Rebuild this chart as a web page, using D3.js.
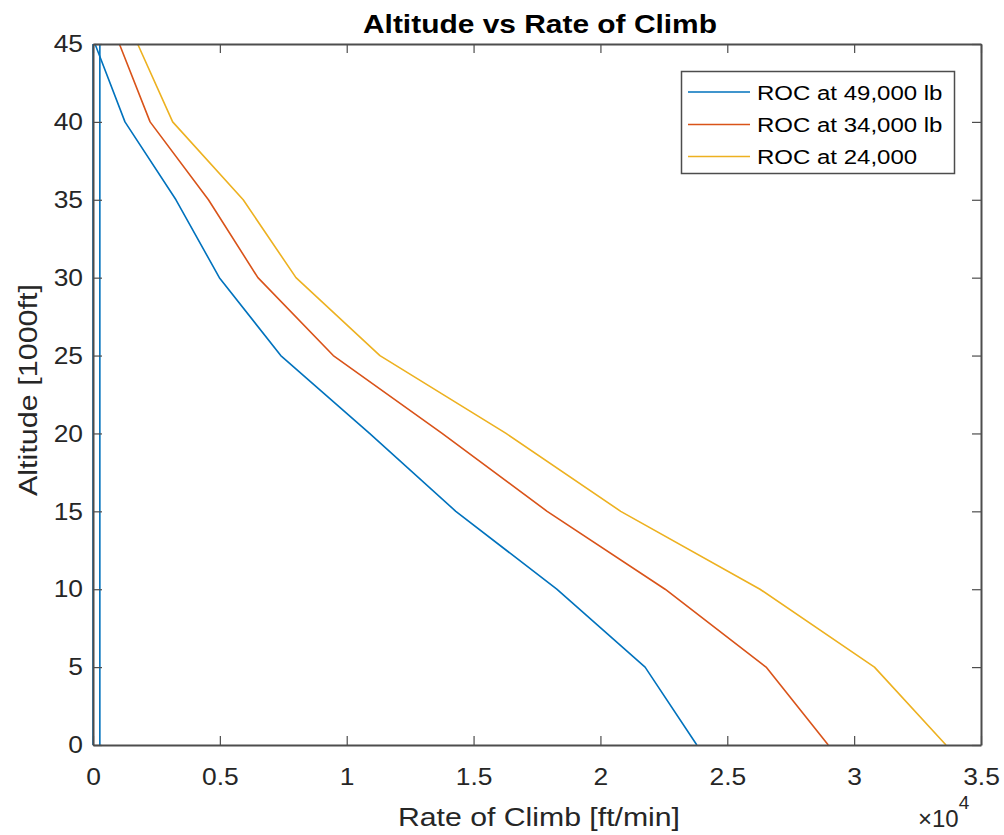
<!DOCTYPE html>
<html><head><meta charset="utf-8">
<script src="https://cdn.jsdelivr.net/npm/d3@7"></script>
<style>
html,body{margin:0;padding:0;background:#fff;}
svg{display:block;font-family:"Liberation Sans",Arial,Helvetica,sans-serif;}
</style></head>
<body>
<svg id="chart" width="1004" height="835"></svg>
<script>
// ---- data ----
const altitudes = [0, 5, 10, 15, 20, 25, 30, 35, 40, 45];           // 1000 ft
const roc49 = [23800, 21760, 18280, 14300, 10900, 7400, 4980, 3270, 1260, 80];
const roc34 = [28980, 26530, 22550, 17900, 13760, 9470, 6500, 4550, 2250, 1040];
const roc24 = [33620, 30800, 26290, 20800, 16280, 11310, 8000, 5920, 3140, 1760];
const roc49Verticals = [0, 270];   // extra vertical blue traces (ft/min) spanning full altitude range
const seriesNames = ["ROC at 49,000 lb", "ROC at 34,000 lb", "ROC at 24,000"];
const seriesColors = ["#0072BD", "#D95319", "#EDB120"];
const xTicks = [0, 5000, 10000, 15000, 20000, 25000, 30000, 35000];
const yTicks = [0, 5, 10, 15, 20, 25, 30, 35, 40, 45];

// ---- layout ----
const svg = d3.select("#chart");
const L = 93, R = 981, T = 44, B = 745;
const x = d3.scaleLinear().domain([0, 35000]).range([L, R]);
const y = d3.scaleLinear().domain([0, 45]).range([B, T]);
const axisColor = "#4d4d4d";
const textColor = "#262626";

function stretch(sel, f) {
  sel.each(function () {
    const w = this.getComputedTextLength();
    d3.select(this).attr("textLength", w * f).attr("lengthAdjust", "spacingAndGlyphs");
  });
}

// lines
const line = d3.line().x(d => x(d[0])).y(d => y(d[1]));
const allSeries = [roc49, roc34, roc24];
const g = svg.append("g");
roc49Verticals.forEach(v => {
  g.append("path").attr("d", line([[v, 0], [v, 45]]))
    .attr("fill", "none").attr("stroke", seriesColors[0]).attr("stroke-width", 1.6);
});
allSeries.forEach((s, i) => {
  g.append("path").attr("d", line(s.map((v, k) => [v, altitudes[k]])))
    .attr("fill", "none").attr("stroke", seriesColors[i]).attr("stroke-width", 1.6)
    .attr("stroke-linejoin", "round");
});

// axes (ticks inside, box)
const tickLen = 9;
const fmtX = d => d3.format("")(d / 10000);
const xb = d3.axisBottom(x).tickValues(xTicks).tickSizeInner(-tickLen).tickSizeOuter(0).tickPadding(23).tickFormat(fmtX);
const xt = d3.axisTop(x).tickValues(xTicks).tickSizeInner(-tickLen).tickSizeOuter(0).tickFormat("");
const yl = d3.axisLeft(y).tickValues(yTicks).tickSizeInner(-tickLen).tickSizeOuter(0).tickPadding(10);
const yr = d3.axisRight(y).tickValues(yTicks).tickSizeInner(-tickLen).tickSizeOuter(0).tickFormat("");

function style(sel) {
  sel.selectAll("path.domain").attr("stroke", axisColor).attr("stroke-width", 2);
  sel.selectAll(".tick line").attr("stroke", axisColor).attr("stroke-width", 1.2);
  sel.selectAll(".tick text").attr("fill", textColor).attr("font-size", 24)
     .attr("font-family", "'Liberation Sans',Arial,sans-serif");
}
const gxb = svg.append("g").attr("transform", `translate(0,${B})`).call(xb).call(style);
svg.append("g").attr("transform", `translate(0,${T})`).call(xt).call(style);
const gyl = svg.append("g").attr("transform", `translate(${L},0)`).call(yl).call(style);
svg.append("g").attr("transform", `translate(${R},0)`).call(yr).call(style);
stretch(gxb.selectAll(".tick text"), 1.1);
stretch(gyl.selectAll(".tick text"), 1.1);

// title & labels
svg.append("text").attr("x", 540).attr("y", 33).attr("text-anchor", "middle")
  .attr("font-size", 25).attr("font-weight", "bold").attr("fill", "#000")
  .attr("textLength", 354).attr("lengthAdjust", "spacingAndGlyphs")
  .text("Altitude vs Rate of Climb");
svg.append("text").attr("x", 539).attr("y", 826).attr("text-anchor", "middle")
  .attr("font-size", 26).attr("fill", textColor)
  .attr("textLength", 282).attr("lengthAdjust", "spacingAndGlyphs")
  .text("Rate of Climb [ft/min]");
svg.append("text").attr("transform", `translate(37,390) rotate(-90)`).attr("text-anchor", "middle")
  .attr("font-size", 26).attr("fill", textColor)
  .attr("textLength", 212).attr("lengthAdjust", "spacingAndGlyphs")
  .text("Altitude [1000ft]");
const ex = svg.append("text").attr("x", 918).attr("y", 827).attr("font-size", 24).attr("fill", textColor);
ex.append("tspan").text("\u00d710");
ex.append("tspan").attr("dy", -18).attr("font-size", 19).text("4");

// legend
const lg = svg.append("g");
lg.append("rect").attr("x", 681.5).attr("y", 71.5).attr("width", 273).attr("height", 102)
  .attr("fill", "#fff").attr("stroke", axisColor).attr("stroke-width", 1.5);
const rowY = [92, 124.5, 156.5];
seriesNames.forEach((n, i) => {
  lg.append("line").attr("x1", 688).attr("x2", 750).attr("y1", rowY[i]).attr("y2", rowY[i])
    .attr("stroke", seriesColors[i]).attr("stroke-width", 1.6);
  const t = lg.append("text").attr("x", 757).attr("y", rowY[i] + 7.5).attr("font-size", 20)
    .attr("fill", "#000").text(n);
  stretch(t, 1.2);
});
</script>
</body></html>
